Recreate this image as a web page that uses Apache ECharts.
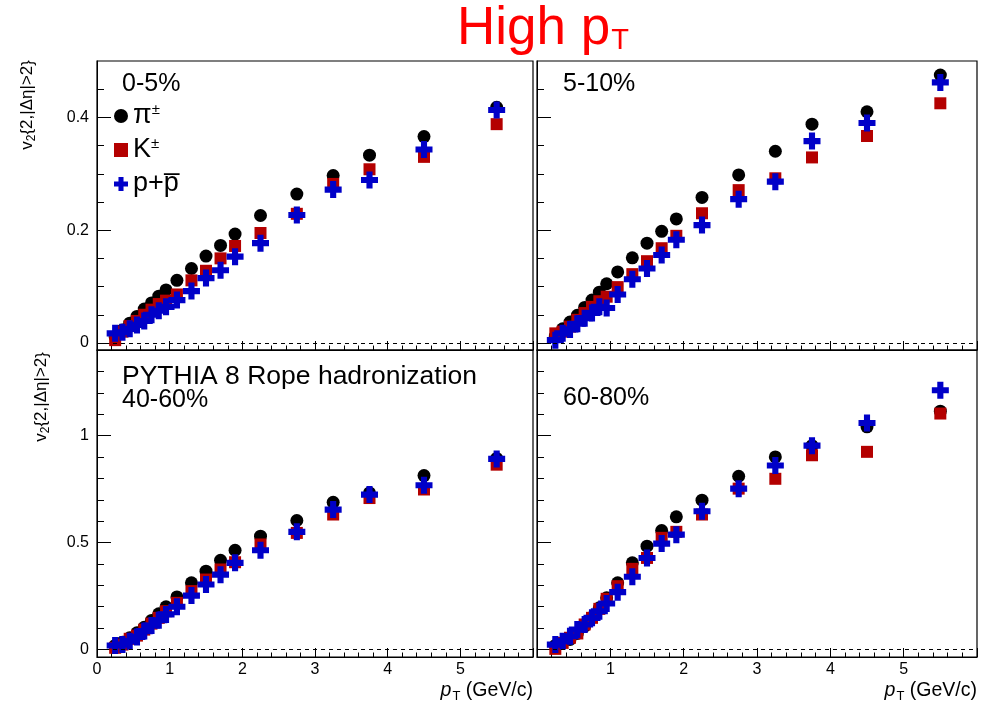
<!DOCTYPE html>
<html><head><meta charset="utf-8">
<script src="https://cdn.jsdelivr.net/npm/echarts@6/dist/echarts.min.js"></script>
<style>html,body{margin:0;padding:0;background:#fff}#c{width:988px;height:710px}</style>
</head><body><div id="c"></div><script>
// ---- data ----
const pT = [0.25,0.35,0.45,0.55,0.65,0.75,0.85,0.95,1.1,1.3,1.5,1.7,1.9,2.25,2.75,3.25,3.75,4.5,5.5];

const pi_0_5 = [0.011,0.023,0.035,0.047,0.060,0.071,0.083,0.094,0.111,0.132,0.154,0.173,0.193,0.226,0.264,0.297,0.333,0.366,0.418];
const K_0_5  = [0.005,0.020,0.030,0.039,0.050,0.059,0.069,0.075,0.086,0.111,0.128,0.150,0.172,0.195,0.229,0.282,0.308,0.330,0.388];
const p_0_5  = [0.017,0.019,0.025,0.032,0.039,0.050,0.057,0.064,0.076,0.092,0.115,0.129,0.153,0.177,0.227,0.272,0.289,0.343,0.413];

const pi_5_10 = [0.012,0.025,0.037,0.049,0.063,0.076,0.090,0.105,0.126,0.151,0.177,0.198,0.220,0.258,0.298,0.340,0.388,0.410,0.475];
const K_5_10  = [0.017,0.020,0.029,0.041,0.053,0.064,0.074,0.082,0.099,0.122,0.145,0.168,0.190,0.230,0.271,0.292,0.329,0.367,0.425];
const p_5_10  = [0.005,0.017,0.024,0.034,0.044,0.053,0.064,0.062,0.086,0.113,0.132,0.156,0.183,0.209,0.255,0.286,0.358,0.390,0.462];

const pi_40_60 = [0.019,0.034,0.055,0.078,0.104,0.136,0.167,0.200,0.246,0.312,0.366,0.417,0.464,0.530,0.603,0.688,0.732,0.813,0.893];
const K_40_60  = [0.008,0.023,0.050,0.065,0.093,0.121,0.148,0.179,0.218,0.273,0.327,0.374,0.408,0.491,0.545,0.631,0.708,0.748,0.864];
const p_40_60  = [0.019,0.023,0.039,0.059,0.086,0.112,0.137,0.164,0.200,0.252,0.304,0.350,0.405,0.464,0.550,0.654,0.724,0.768,0.891];

const pi_60_80 = [0.019,0.031,0.047,0.075,0.109,0.151,0.195,0.242,0.312,0.405,0.483,0.556,0.620,0.698,0.810,0.900,0.953,1.041,1.114];
const K_60_80  = [0.003,0.031,0.055,0.075,0.117,0.148,0.190,0.237,0.296,0.377,0.428,0.522,0.550,0.631,0.752,0.798,0.908,0.924,1.103];
const p_60_80  = [0.023,0.039,0.062,0.093,0.117,0.148,0.179,0.215,0.268,0.340,0.428,0.495,0.537,0.646,0.752,0.860,0.953,1.059,1.212];

const panelLabels = ['0-5%', '5-10%', '40-60%', '60-80%'];
const modelLabel = 'PYTHIA 8 Rope hadronization';

const yTopMajor = [0, 0.2, 0.4];
const yTopMinor = [0.05, 0.1, 0.15, 0.25, 0.3, 0.35, 0.45];
const yBotMajor = [0, 0.5, 1];
const yBotMinor = [0.1, 0.2, 0.3, 0.4, 0.6, 0.7, 0.8, 0.9, 1.1, 1.2, 1.3];
const xLabelsLeft = [0, 1, 2, 3, 4, 5];
const xLabelsRight = [1, 2, 3, 4, 5];

// ---- chart ----
const FONT = 'Liberation Sans, Arial, Helvetica, sans-serif';
const crossPath = 'path://M3.2,0H6.8V3.2H10V6.8H6.8V10H3.2V6.8H0V3.2H3.2Z';
const RED = '#b40000', BLUE = '#0000c8';

const grids = [
  {left: 97, top: 61, width: 436, height: 289},
  {left: 537, top: 61, width: 440, height: 289},
  {left: 97, top: 350, width: 436, height: 307},
  {left: 537, top: 350, width: 440, height: 307}
];
const yRanges = [[-0.0125, 0.5], [-0.0125, 0.5], [-0.035, 1.4], [-0.035, 1.4]];
const panelData = [
  [pi_0_5, K_0_5, p_0_5],
  [pi_5_10, K_5_10, p_5_10],
  [pi_40_60, K_40_60, p_40_60],
  [pi_60_80, K_60_80, p_60_80]
];

const xAxes = [], yAxes = [], series = [];
grids.forEach((g, i) => {
  const bottom = i >= 2, left = i % 2 === 0;
  xAxes.push({
    gridIndex: i, type: 'value', min: 0, max: 6, interval: 1,
    axisLine: {show: true, onZero: false, lineStyle: {color: '#000', width: 1}},
    axisTick: {show: true, inside: true, length: 9, lineStyle: {color: '#000'}},
    minorTick: {show: true, splitNumber: 5, length: 4.5, lineStyle: {color: '#000'}},
    axisLabel: {show: bottom, customValues: left ? xLabelsLeft : xLabelsRight, margin: 5,
      fontSize: 16, color: '#000', fontFamily: FONT},
    splitLine: {show: false}, minorSplitLine: {show: false}
  });
  const major = bottom ? yBotMajor : yTopMajor;
  const minor = bottom ? yBotMinor : yTopMinor;
  yAxes.push({
    gridIndex: i, type: 'value', min: yRanges[i][0], max: yRanges[i][1], position: 'left', offset: 0,
    axisLine: {show: true, onZero: false, lineStyle: {color: '#000', width: 1}},
    axisTick: {show: true, inside: true, length: 14, customValues: major, lineStyle: {color: '#000'}},
    axisLabel: {show: left, customValues: major, margin: 8, fontSize: 16, color: '#000', fontFamily: FONT},
    splitLine: {show: false}
  });
  yAxes.push({
    gridIndex: i, type: 'value', min: yRanges[i][0], max: yRanges[i][1], position: 'left', offset: 0,
    axisLine: {show: false},
    axisTick: {show: true, inside: true, length: 7, customValues: minor, lineStyle: {color: '#000'}},
    axisLabel: {show: false},
    splitLine: {show: false}
  });
  const [pi, K, pp] = panelData[i];
  series.push({
    name: 'pi', type: 'scatter', xAxisIndex: i, yAxisIndex: 2 * i, symbol: 'circle', symbolSize: 13,
    itemStyle: {color: '#000', opacity: 1}, z: 2, data: pT.map((x, j) => [x, pi[j]]),
    markLine: {silent: true, symbol: 'none', label: {show: false}, animation: false,
      lineStyle: {type: [4, 4], color: '#000', width: 1}, data: [{yAxis: 0}]}
  });
  series.push({
    name: 'K', type: 'scatter', xAxisIndex: i, yAxisIndex: 2 * i, symbol: 'rect', symbolSize: 12,
    itemStyle: {color: RED, opacity: 1}, z: 3, data: pT.map((x, j) => [x, K[j]])
  });
  series.push({
    name: 'p', type: 'scatter', xAxisIndex: i, yAxisIndex: 2 * i, symbol: crossPath, symbolSize: 17,
    itemStyle: {color: BLUE, opacity: 1}, z: 4, data: pT.map((x, j) => [x, pp[j]])
  });
});

const legendText = {pi: '{m|π}{s|±}', K: '{m|K}{s|±}', p: '{m|p+p\u0305}'};

const graphic = [];
function txt(x, y, text, size) {
  graphic.push({type: 'text', x: x, y: y, z: 10, silent: true,
    style: {text: text, fontSize: size, fill: '#000', fontFamily: FONT, textAlign: 'left', textVerticalAlign: 'middle'}});
}
txt(122, 84, panelLabels[0], 25);
txt(563, 84, panelLabels[1], 25);
txt(122, 377, modelLabel, 26.5);
txt(122, 400, panelLabels[2], 25);
txt(563, 398, panelLabels[3], 25);

// title
graphic.push({type: 'text', x: 457, y: 3, z: 10, silent: true, style: {
  text: '{m|High p}{s|T}', fill: '#ff0000', fontFamily: FONT, textAlign: 'left', textVerticalAlign: 'top',
  rich: {
    m: {fontSize: 53, verticalAlign: 'top', fill: '#ff0000', fontFamily: FONT},
    s: {fontSize: 29, verticalAlign: 'top', padding: [23, 0, 0, 1], fill: '#ff0000', fontFamily: FONT}
  }}});

// y-axis titles
const yTitleRich = {
  m: {fontSize: 17, verticalAlign: 'top', fill: '#000', fontFamily: FONT},
  s: {fontSize: 12, verticalAlign: 'top', padding: [7, 0, 0, 0], fill: '#000', fontFamily: FONT}
};
[[28, 60], [42, 352]].forEach(([x, y]) => {
  graphic.push({type: 'text', x: x, y: y, rotation: Math.PI / 2, z: 10, silent: true, style: {
    text: '{m|v}{s|2}{m|{2,|Δη|>2}}', textAlign: 'right', textVerticalAlign: 'middle',
    fontFamily: FONT, fontSize: 17, fill: '#000',
    rich: yTitleRich}});
});
// x-axis titles
const xTitleRich = {
  i: {fontSize: 19.5, verticalAlign: 'top', fill: '#000', fontFamily: FONT, fontStyle: 'italic'},
  s: {fontSize: 13, verticalAlign: 'top', padding: [9, 0, 0, 1], fill: '#000', fontFamily: FONT},
  n: {fontSize: 19.5, verticalAlign: 'top', fill: '#000', fontFamily: FONT}
};
[533, 977].forEach(x => {
  graphic.push({type: 'text', x: x, y: 681, z: 10, silent: true, style: {
    text: '{i|p}{s|T}{n| (GeV/c)}', textAlign: 'right', textVerticalAlign: 'top', fontFamily: FONT,
    rich: xTitleRich}});
});

const chart = echarts.init(document.getElementById('c'), null, {renderer: 'canvas'});
chart.setOption({
  animation: false,
  backgroundColor: '#fff',
  grid: grids.map(g => Object.assign({show: true, borderColor: '#000', borderWidth: 1.2, backgroundColor: 'transparent'}, g)),
  xAxis: xAxes,
  yAxis: yAxes,
  legend: {
    left: 109, top: 97, orient: 'vertical', itemWidth: 14, itemHeight: 14, itemGap: 7, itemTextGap: 3,
    selectedMode: false,
    data: [{name: 'pi', icon: 'circle'}, {name: 'K', icon: 'rect'}, {name: 'p', icon: crossPath}],
    formatter: n => legendText[n],
    textStyle: {fontFamily: FONT, rich: {
      m: {fontSize: 27, lineHeight: 28, verticalAlign: 'top', color: '#000', fontFamily: FONT},
      s: {fontSize: 15, lineHeight: 12, verticalAlign: 'top', color: '#000', fontFamily: FONT}
    }}
  },
  graphic: graphic,
  series: series
});
</script></body></html>
